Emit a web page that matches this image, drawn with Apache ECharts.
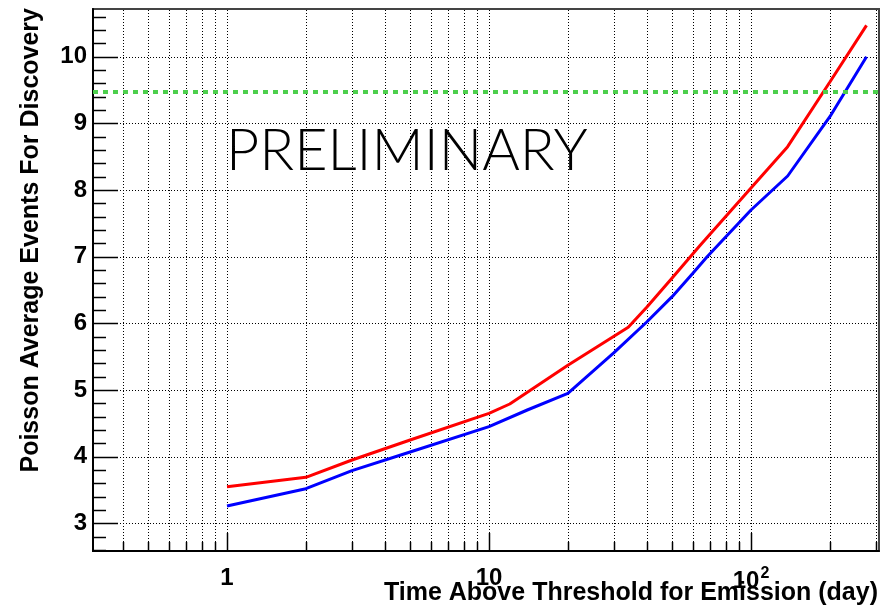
<!DOCTYPE html>
<html>
<head>
<meta charset="utf-8">
<script src="https://cdn.jsdelivr.net/npm/echarts@6/dist/echarts.min.js"></script>
<style>
html,body{margin:0;padding:0;background:#fff;}
#chart{width:895px;height:610px;}
</style>
</head>
<body>
<div id="chart"></div>
<script>
// ---- data ----
const redX = [1, 2, 3, 5, 10, 12, 20, 34, 40, 50, 64, 100, 138, 200, 276];
const redY = [3.55, 3.69, 3.95, 4.25, 4.65, 4.79, 5.37, 5.94, 6.24, 6.68, 7.17, 8.03, 8.65, 9.62, 10.47];
const blueX = [1, 2, 3, 5, 10, 14, 20, 30, 40, 50, 60, 68, 100, 138, 200, 276];
const blueY = [3.26, 3.52, 3.79, 4.07, 4.45, 4.70, 4.95, 5.56, 6.02, 6.40, 6.75, 7.00, 7.70, 8.21, 9.10, 10.00];
const threshold = 9.47;

// ---- axes ----
const xMin = 0.308, xMax = 308;
const yMin = 2.585, yMax = 10.715;
const xMajorTicks = [1, 10, 100];
const xMinorTicks = [0.4, 0.5, 0.6, 0.7, 0.8, 0.9, 2, 3, 4, 5, 6, 7, 8, 9, 20, 30, 40, 50, 60, 70, 80, 90, 200, 300];
const yMajorTicks = [3, 4, 5, 6, 7, 8, 9, 10];
const yMinorTicks = [2.6, 2.8, 3.2, 3.4, 3.6, 3.8, 4.2, 4.4, 4.6, 4.8, 5.2, 5.4, 5.6, 5.8,
  6.2, 6.4, 6.6, 6.8, 7.2, 7.4, 7.6, 7.8, 8.2, 8.4, 8.6, 8.8, 9.2, 9.4, 9.6, 9.8, 10.2, 10.4, 10.6];

const xTitle = 'Time Above Threshold for Emission (day)';
const yTitle = 'Poisson Average Events For Discovery';
const stamp = 'PRELIMINARY';

const zip = (xs, ys) => xs.map((x, i) => [x, ys[i]]);
const FONT = '"Liberation Sans", Arial, Helvetica, sans-serif';

function px(v) { return Math.round(v) + 0.5; }

function renderFrame(params, api) {
  const children = [];
  const dot = { stroke: '#000', lineWidth: 1, lineDash: [1, 2] };
  const tick = { stroke: '#000', lineWidth: 1.5 };
  const allX = xMajorTicks.concat(xMinorTicks);
  allX.forEach(x => {
    const a = api.coord([x, yMin]);
    const b = api.coord([x, yMax]);
    const X = px(a[0]);
    children.push({ type: 'line', shape: { x1: X, y1: a[1], x2: X, y2: b[1] }, style: dot });
    const len = xMajorTicks.includes(x) ? 18 : 9;
    children.push({ type: 'line', shape: { x1: X, y1: a[1], x2: X, y2: a[1] - len }, style: tick });
  });
  yMajorTicks.forEach(y => {
    const a = api.coord([xMin, y]);
    const b = api.coord([xMax, y]);
    const Y = px(a[1]);
    children.push({ type: 'line', shape: { x1: a[0], y1: Y, x2: b[0], y2: Y }, style: dot });
    children.push({ type: 'line', shape: { x1: a[0], y1: Y, x2: a[0] + 25, y2: Y }, style: tick });
  });
  yMinorTicks.forEach(y => {
    const a = api.coord([xMin, y]);
    const Y = px(a[1]);
    children.push({ type: 'line', shape: { x1: a[0], y1: Y, x2: a[0] + 13, y2: Y }, style: tick });
  });
  return { type: 'group', children };
}

const chart = echarts.init(document.getElementById('chart'), null, { renderer: 'canvas' });
chart.setOption({
  animation: false,
  backgroundColor: '#fff',
  grid: {
    left: 93, right: 16, top: 9, bottom: 59,
    show: true, borderColor: '#444', borderWidth: 2,
    containLabel: false, outerBoundsMode: 'none'
  },
  xAxis: {
    type: 'log', logBase: 10, min: xMin, max: xMax,
    axisLine: { show: true, onZero: false, lineStyle: { color: '#000', width: 2 } },
    axisTick: { show: false },
    splitLine: { show: false },
    minorTick: { show: false },
    axisLabel: {
      customValues: xMajorTicks,
      margin: 15,
      color: '#000', fontSize: 24, fontWeight: 'bold', fontFamily: FONT,
      formatter: v => (Math.abs(v - 100) < 1e-6 ? '10{sup|2}' : String(v)),
      rich: {
        sup: { fontSize: 16, fontWeight: 'bold', fontFamily: FONT, color: '#000', verticalAlign: 'top', padding: [0, 0, 14, 1] }
      }
    }
  },
  yAxis: {
    type: 'value', min: yMin, max: yMax,
    axisLine: { show: true, onZero: false, lineStyle: { color: '#000', width: 2 } },
    axisTick: { show: false },
    splitLine: { show: false },
    axisLabel: {
      customValues: yMajorTicks,
      margin: 6,
      color: '#000', fontSize: 24, fontWeight: 'bold', fontFamily: FONT
    }
  },
  graphic: [
    { type: 'text', x: 878, y: 593, z: 10,
      style: { text: xTitle, align: 'right', verticalAlign: 'middle', fill: '#000', font: 'bold 25px ' + FONT } },
    { type: 'text', x: 31, y: 8, rotation: Math.PI / 2, z: 10,
      style: { text: yTitle, align: 'right', verticalAlign: 'middle', fill: '#000', font: 'bold 25px ' + FONT } },
    { type: 'text', x: 226, y: 151, z: 10,
      style: { text: stamp, align: 'left', verticalAlign: 'middle', fill: '#000', font: '300 57.5px Lato, "Noto Sans", sans-serif' } }
  ],
  series: [
    {
      type: 'custom', name: 'frame', silent: true, z: 1,
      renderItem: renderFrame, data: [[1, 5]], clip: false
    },
    {
      type: 'line', name: 'red', data: zip(redX, redY), z: 3,
      showSymbol: false, symbol: 'none',
      lineStyle: { color: '#ff0000', width: 3 },
      markLine: {
        silent: true, symbol: 'none', label: { show: false },
        lineStyle: { color: '#4ccf4c', width: 4, type: [5, 5] },
        data: [{ yAxis: threshold }]
      }
    },
    {
      type: 'line', name: 'blue', data: zip(blueX, blueY), z: 3,
      showSymbol: false, symbol: 'none',
      lineStyle: { color: '#0000ff', width: 3 }
    }
  ]
});
</script>
</body>
</html>
